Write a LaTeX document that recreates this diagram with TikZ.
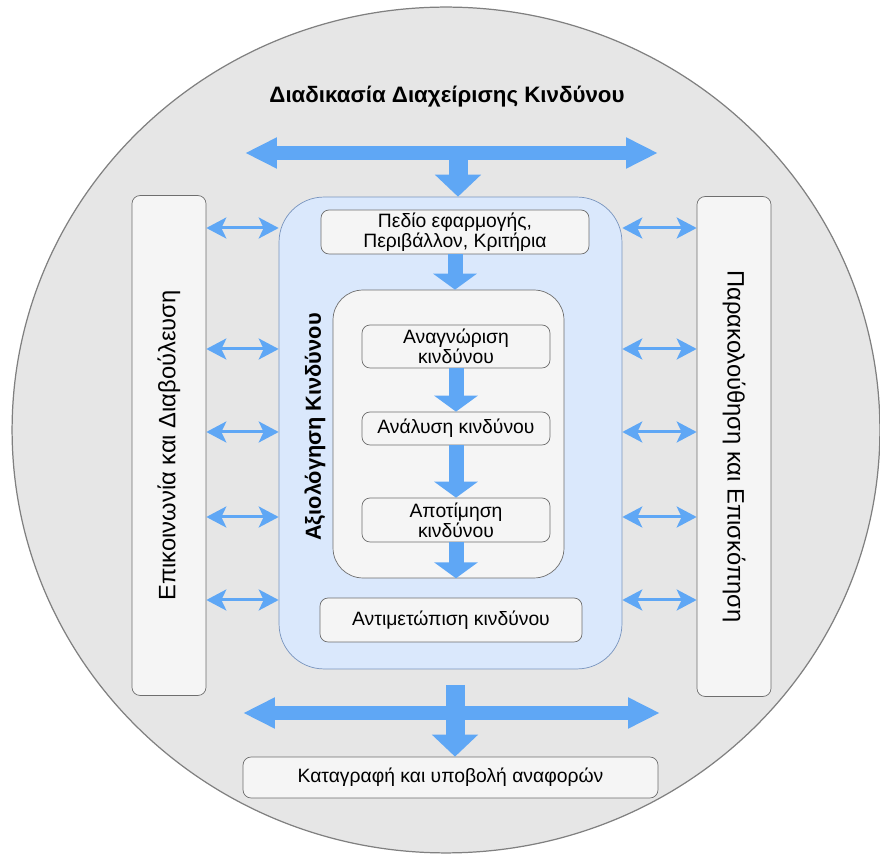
\documentclass[tikz,border=0pt]{standalone}
\usepackage{fontspec}
\setmainfont{Liberation Sans}
\usetikzlibrary{arrows.meta}
\definecolor{ringfill}{RGB}{230,230,230}
\definecolor{ringline}{RGB}{128,128,128}
\definecolor{boxfill}{RGB}{245,245,245}
\definecolor{boxline}{RGB}{110,110,110}
\definecolor{assessfill}{RGB}{218,232,252}
\definecolor{assessline}{RGB}{120,148,190}
\definecolor{flowblue}{RGB}{95,167,245}

\begin{document}
\begin{tikzpicture}[x=0.02cm, y=-0.02cm,
    box/.style={draw=boxline, fill=boxfill, rounded corners=0.16cm, inner sep=0pt, align=center, font=\fontsize{11}{11.5}\selectfont},
    sidebox/.style={box, minimum width=10cm, minimum height=1.48cm, font=\fontsize{13.5}{15}\selectfont},
    bigboth/.style={draw=flowblue, line width=0.27cm, {Triangle[length=0.64cm, width=0.58cm]}-{Triangle[length=0.64cm, width=0.58cm]}},
    bigdown/.style={draw=flowblue, line width=0.38cm, -{Triangle[length=0.44cm, width=0.9cm]}},
    stepdown/.style={draw=flowblue, line width=0.3cm, -{Triangle[length=0.32cm, width=0.86cm]}},
    linkarrow/.style={draw=flowblue, line width=0.06cm, {Stealth[length=0.4cm, width=0.42cm, inset=0.1cm]}-{Stealth[length=0.4cm, width=0.42cm, inset=0.1cm]}}]
    \useasboundingbox (0,0) rectangle (880,854);
    \draw[ringline, fill=ringfill, line width=0.7pt] (446,430) circle [x radius=8.68cm, y radius=8.46cm];
    \node[font=\fontsize{12.7}{14}\selectfont\bfseries] (title) at (447,97) {Διαδικασία Διαχείρισης Κινδύνου};

    \node[sidebox, rotate=90] (comm) at (169,445.5) {Επικοινωνία και Διαβούλευση};
    \node[sidebox, rotate=-90] (monitor) at (734,446.5) {Παρακολούθηση και Επισκόπηση};

    \node[draw=assessline, fill=assessfill, rounded corners=0.9cm, minimum width=6.86cm, minimum height=9.44cm] (assess) at (450.5,433) {};
    \node[rotate=90, font=\fontsize{12.4}{14}\selectfont\bfseries] (assesslabel) at (315,427) {Αξιολόγηση Κινδύνου};
    \node[draw=boxline, fill=boxfill, rounded corners=0.6cm, minimum width=4.62cm, minimum height=5.76cm] (inner) at (448.5,434) {};

    \node[box, minimum width=5.36cm, minimum height=0.88cm] (scope) at (455,232) {Πεδίο εφαρμογής,\\Περιβάλλον, Κριτήρια};
    \node[box, minimum width=3.76cm, minimum height=0.86cm] (ident) at (456,346.5) {Αναγνώριση\\κινδύνου};
    \node[box, minimum width=3.76cm, minimum height=0.66cm] (analyse) at (456,428.5) {Ανάλυση κινδύνου};
    \node[box, minimum width=3.76cm, minimum height=0.88cm] (evaluate) at (456,520) {Αποτίμηση\\κινδύνου};
    \node[box, minimum width=5.24cm, minimum height=0.88cm] (treat) at (451,620) {Αντιμετώπιση κινδύνου};
    \node[box, minimum width=8.3cm, minimum height=0.82cm] (report) at (450.5,777.5) {Καταγραφή και υποβολή αναφορών};

    \coordinate (topleft) at (245,153);
    \coordinate (topright) at (658,153);
    \coordinate (topmid) at (458,150);
    \coordinate (botleft) at (243,713);
    \coordinate (botright) at (660,713);
    \coordinate (botmid) at (455,685);

    \draw[bigboth] (topleft) -- (topright);
    \draw[bigdown] (topmid) -- (topmid |- assess.north);
    \draw[bigboth] (botleft) -- (botright);
    \draw[bigdown] (botmid) -- (botmid |- report.north);

    \draw[stepdown] (scope.south) -- (scope.south |- inner.north);
    \draw[stepdown] (ident.south) -- (analyse.north);
    \draw[stepdown] (analyse.south) -- (evaluate.north);
    \draw[stepdown] (evaluate.south) -- (evaluate.south |- inner.south);

    \foreach \y in {228,349,432,517,600} {
        \draw[linkarrow] (comm.south |- 0,\y) -- (assess.west |- 0,\y);
        \draw[linkarrow] (assess.east |- 0,\y) -- (monitor.south |- 0,\y);
    }
\end{tikzpicture}
\end{document}
